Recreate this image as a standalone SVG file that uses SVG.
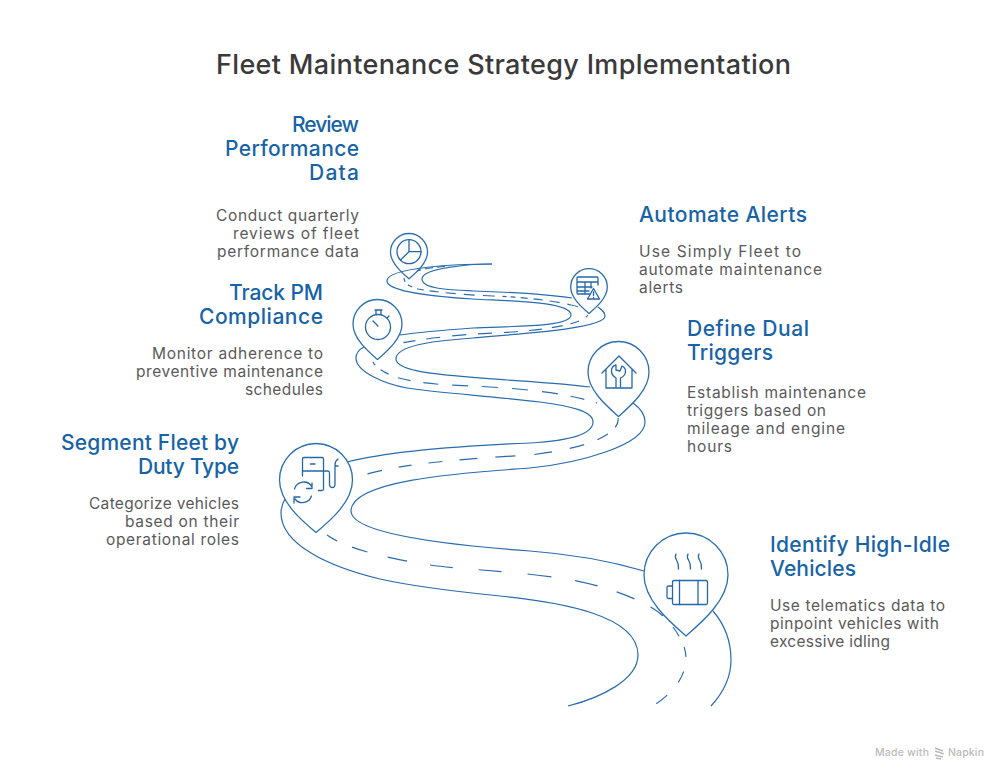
<svg xmlns="http://www.w3.org/2000/svg" width="1008" height="780" viewBox="0 0 1008 780">
<style>
text{font-family:"Inter","Open Sans","Liberation Sans",sans-serif}
.t{font-size:27px;font-weight:500;fill:#3a3a3a}
.h{font-size:21px;font-weight:500;fill:#1763a8}
.b{font-size:15.5px;fill:#5a5a5a}
.m{font-size:10.5px;fill:#bbb;font-weight:500}
.pin{fill:none;stroke:#2c6fb0;stroke-width:1.3}
.i{fill:none;stroke:#2567a8;stroke-width:1.3;stroke-linecap:round;stroke-linejoin:round}
.r{fill:none;stroke:#2a6cae;stroke-width:1.2}
.d{fill:none;stroke:#2a6cae;stroke-width:1.2}
</style>
<rect width="1008" height="780" fill="#fff"/>
<text class="t" x="216" y="74" textLength="575">Fleet Maintenance Strategy Implementation</text>

<g id="connectors">
<path class="r" d="M492,264 C460,264 387,267 387,281 C387,292 440,297 473,299 C505,301 571,301 571,315 C571,328 505,326 473,328 C445,330 420,332 400,335"/>
<path class="r" d="M492,264 C470,264 422,268 422,279 C422,289 450,290 473,291 C505,292 545,294 572,298"/>
<path class="r" d="M598,307 C602,310 605,312 605,316 C605,328 530,333 473,338 C430,341 396,346 396,359 C396,372 440,375 507,380 C540,382 565,384 590,387"/>
<path class="r" d="M364,347 C358,350 356,354 356,358 C356,372 385,384 407,388 C430,392 500,397 540,402 C570,406 593,411 593,422 C593,435 565,441 530,443 C480,445 395,450 347,462"/>
<path class="r" d="M633,403 C640,408 645,414 645,422 C645,445 580,463 530,468 C480,472 351,478 351,511 C351,530 420,543 530,551 C570,554 610,561 644,571"/>
<path class="r" d="M285,499 C282,504 281,508 281,513 C281,545 330,567 380,579 C420,588 470,593 500,596 C560,602 638,615 638,655 C638,680 600,698 568,706"/>
<path class="r" d="M713,611 C725,625 731,642 731,660 C731,678 722,694 711,706"/>
<path class="d" stroke-dasharray="8 4" d="M445,266.5 C435,267 425,268.5 417,271"/>
<path class="d" stroke-dasharray="4 4 5 5 7 6 9 7 10 8 11 8 12 8" d="M404,278 C404,284 411,287 418,289 C440,293 470,295 493,296 C520,297 550,300 571,305 C576,306 580,307 584,310"/>
<path class="d" stroke-dasharray="3 8 9 8 11 10 13 11 14 12 14 12 14 12 14 11 12 11" d="M588,315 C584,320 575,323 565,325 C540,331 500,333 473,334 C450,336 420,339 397,344"/>
<path class="d" stroke-dasharray="4 7 9 10 13 13 15 14 16 14 16 14 16 14 16 13 14 12" d="M373,362 C375,367 385,373 395,377 C420,384 445,385 473,386 C510,388 560,391 597,403"/>
<path class="d" stroke-dasharray="10 10 12 14 15 18 18 19 20 18 18 17 14 17 13 17 15" d="M618,418 C620,430 600,447 530,455 C480,458 410,462 367,474"/>
<path class="d" stroke-dasharray="12 16 16 21 20 23 23 26 23 26 24 24 23 20 19 18 18 100" d="M327,535 C345,548 385,558 430,565 C465,570 520,571 572,580 C610,587 650,603 663,616"/>
<path class="d" stroke-dasharray="11 12 10 15 12 17 14" d="M673,627 C681,638 686,648 686,658 C686,675 675,692 653,706"/>
</g>

<g id="node-review">
<path class="pin" d="M409,278.8 C402,272.7 390.5,263 390.5,252 A18.5,18.5 0 1 1 427.5,252 C427.5,263 416,272.7 409,278.8Z"/>
<circle class="i" cx="409" cy="251.7" r="12"/>
<path class="i" d="M409,240 V251.7 H421 M409,251.7 L400.5,260"/>
<text class="h" x="292" y="132" textLength="67">Review</text>
<text class="h" x="225" y="156" textLength="134">Performance</text>
<text class="h" x="309" y="180" textLength="50">Data</text>
<text class="b" x="216" y="221" textLength="143">Conduct quarterly</text>
<text class="b" x="233" y="239" textLength="126">reviews of fleet</text>
<text class="b" x="217" y="257" textLength="142">performance data</text>
</g>

<g id="node-automate">
<path class="pin" d="M589,313.5 C582,307.5 570.7,298 570.7,287 A18.3,18.3 0 1 1 607.3,287 C607.3,298 596,307.5 589,313.5Z"/>
<path class="i" d="M590,294 H578 Q577,294 577,293 V278 Q577,277 578,277 H597 Q598,277 598,278 V285 M577,282 H598 M577,287 H592 M577,291 H589 M585,282 V294 M591,282 V288"/>
<path class="i" d="M593.5,288.5 L599.5,299 H587.5Z M593.5,292 V295.5 M593.5,297.3 V297.5"/>
<text class="h" x="639" y="222" textLength="168">Automate Alerts</text>
<text class="b" x="639" y="257" textLength="162">Use Simply Fleet to</text>
<text class="b" x="639" y="275" textLength="183">automate maintenance</text>
<text class="b" x="639" y="293" textLength="44">alerts</text>
</g>

<g id="node-track">
<path class="pin" d="M377.5,359.5 C368.2,351.4 353,338.7 353,324 A24.5,24.5 0 1 1 402,324 C402,338.7 386.8,351.4 377.5,359.5Z"/>
<circle class="i" cx="378" cy="327" r="12.5"/>
<path class="i" d="M375,310 H382 M376,310 V314.5 M381,310 V314.5 M373,321 L378,326 M387,318 L389,316"/>
<text class="h" x="229" y="300" textLength="94">Track PM</text>
<text class="h" x="199" y="324" textLength="124">Compliance</text>
<text class="b" x="152" y="359" textLength="171">Monitor adherence to</text>
<text class="b" x="136" y="377" textLength="187">preventive maintenance</text>
<text class="b" x="245" y="395" textLength="78">schedules</text>
</g>

<g id="node-define">
<path class="pin" d="M618.5,416.5 C606.9,406.2 588,390.3 588,372 A30.5,30.5 0 1 1 649,372 C649,390.3 630.1,406.2 618.5,416.5Z"/>
<path class="i" d="M602,373 L619,356 L636,373 M606,369 V388 H632 V369"/>
<path class="i" d="M616,387 V378 Q611,375 611.5,370 Q612,366 616,365 V370 L620,371 L622,366 Q626,368 625.5,372 Q625,376 620.5,378 V387"/>
<text class="h" x="687" y="336" textLength="122">Define Dual</text>
<text class="h" x="687" y="360" textLength="86">Triggers</text>
<text class="b" x="687" y="398" textLength="179">Establish maintenance</text>
<text class="b" x="687" y="416" textLength="139">triggers based on</text>
<text class="b" x="687" y="434" textLength="158">mileage and engine</text>
<text class="b" x="687" y="452" textLength="45">hours</text>
</g>

<g id="node-segment">
<path class="pin" d="M316,532.5 C302.1,521 279.5,502 279.5,480 A36.5,36.5 0 1 1 352.5,480 C352.5,502 329.9,521 316,532.5Z"/>
<path class="i" d="M302.5,476 V459 Q302.5,457.5 304,457.5 H322 Q323.5,457.5 323.5,459 V489 Q323.5,490.5 322,490.5 H318.5 M302.5,471 H328 Q329.5,471 329.5,473 V484 Q329.5,487.5 332.5,487.5 Q335,487.5 335,484 V465 Q335,461 338,459 M310.5,464 H315 M336,466 H338"/>
<path class="i" d="M294.5,489 A9.5,9.5 0 0 1 312,487 M312,483 V488.5 H306.5 M311.5,496 A9.5,9.5 0 0 1 295,499 M294,503 V497 H300"/>
<text class="h" x="61" y="450" textLength="178">Segment Fleet by</text>
<text class="h" x="138" y="474" textLength="101">Duty Type</text>
<text class="b" x="89" y="509" textLength="150">Categorize vehicles</text>
<text class="b" x="125" y="527" textLength="114">based on their</text>
<text class="b" x="106" y="545" textLength="133">operational roles</text>
</g>

<g id="node-identify">
<path class="pin" d="M686,636 C670,622 644,600 644,575 A42,42 0 1 1 728,575 C728,600 702,622 686,636Z"/>
<rect class="i" x="672.5" y="580.5" width="35" height="24" rx="1.5"/>
<path class="i" d="M672.5,586 H668.5 Q667,586 667,587.5 V597 Q667,598.5 668.5,598.5 H672.5 M679.5,580.5 V604.5 M698,580.5 V604.5"/>
<path class="i" d="M676,554 Q674.5,557 676.5,560 Q679,564 678.5,569 M688,554 Q686.5,557 688.5,560 Q691,564 690.5,569 M699,554 Q697.5,557 699.5,560 Q702,564 701.5,569"/>
<text class="h" x="770" y="552" textLength="180">Identify High-Idle</text>
<text class="h" x="770" y="576" textLength="86">Vehicles</text>
<text class="b" x="770" y="611" textLength="175">Use telematics data to</text>
<text class="b" x="770" y="629" textLength="169">pinpoint vehicles with</text>
<text class="b" x="770" y="647" textLength="120">excessive idling</text>
</g>

<g id="credit">
<text class="m" x="875" y="756" textLength="54">Made with</text>
<path fill="none" stroke="#bbb" stroke-width="1.5" d="M935,748 L943,751 M935,751 L944,754 M935,755 L943,757 M936,758 L941,759"/>
<text class="m" x="948" y="756" textLength="36">Napkin</text>
</g>
</svg>
